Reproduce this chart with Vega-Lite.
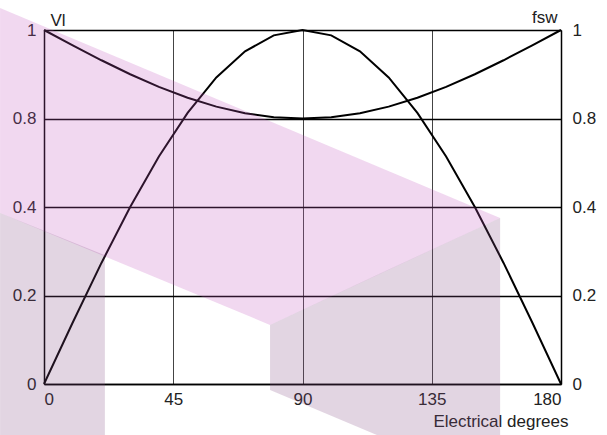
{
  "$schema": "https://vega.github.io/schema/vega-lite/v6.json",
  "width": 517,
  "height": 354,
  "autosize": "none",
  "padding": {"left": 44, "top": 30, "right": 46, "bottom": 51},
  "config": {
    "font": "Liberation Sans",
    "view": {"stroke": null},
    "axis": {"labelFontSize": 17, "titleFontSize": 17, "titleFontWeight": "normal", "labelColor": "#222", "titleColor": "#222", "ticks": false, "domainColor": "#000", "domainWidth": 1.5}
  },
  "resolve": {"scale": {"y": "shared"}, "axis": {"y": "independent"}},
  "layer": [
    {
      "data": {"values": [
        {"deg": 0, "v": 0}, {"deg": 10, "v": 0.1736}, {"deg": 20, "v": 0.342}, {"deg": 30, "v": 0.5},
        {"deg": 40, "v": 0.6428}, {"deg": 50, "v": 0.766}, {"deg": 60, "v": 0.866}, {"deg": 70, "v": 0.9397},
        {"deg": 80, "v": 0.9848}, {"deg": 90, "v": 1}, {"deg": 100, "v": 0.9848}, {"deg": 110, "v": 0.9397},
        {"deg": 120, "v": 0.866}, {"deg": 130, "v": 0.766}, {"deg": 140, "v": 0.6428}, {"deg": 150, "v": 0.5},
        {"deg": 160, "v": 0.342}, {"deg": 170, "v": 0.1736}, {"deg": 180, "v": 0}
      ]},
      "mark": {"type": "line", "color": "#000", "strokeWidth": 2},
      "encoding": {
        "x": {"field": "deg", "type": "quantitative", "scale": {"domain": [0, 180], "nice": false, "zero": false},
          "axis": {"values": [0, 45, 90, 135, 180], "grid": true, "gridColor": "#444", "gridWidth": 1, "labelPadding": 7,
            "title": "Electrical degrees", "titleAlign": "right", "titleAnchor": null, "titleX": 524, "titleY": 42, "titleBaseline": "alphabetic"}},
        "y": {"field": "v", "type": "quantitative", "scale": {"domain": [0, 1], "nice": false},
          "axis": {"orient": "left", "values": [0, 0.25, 0.5, 0.75, 1], "grid": true, "gridColor": "#000", "gridWidth": 1.5, "labelPadding": 8,
            "labelExpr": "datum.value == 0 ? '0' : datum.value == 0.25 ? '0.2' : datum.value == 0.5 ? '0.4' : datum.value == 0.75 ? '0.8' : '1'",
            "title": "Vl", "titleAngle": 0, "titleAlign": "left", "titleBaseline": "alphabetic", "titleX": 6, "titleY": -5}}
      }
    },
    {
      "data": {"values": [
        {"deg": 0, "v": 1}, {"deg": 10, "v": 0.9566}, {"deg": 20, "v": 0.9145}, {"deg": 30, "v": 0.875},
        {"deg": 40, "v": 0.8393}, {"deg": 50, "v": 0.8085}, {"deg": 60, "v": 0.7835}, {"deg": 70, "v": 0.7651},
        {"deg": 80, "v": 0.7538}, {"deg": 90, "v": 0.75}, {"deg": 100, "v": 0.7538}, {"deg": 110, "v": 0.7651},
        {"deg": 120, "v": 0.7835}, {"deg": 130, "v": 0.8085}, {"deg": 140, "v": 0.8393}, {"deg": 150, "v": 0.875},
        {"deg": 160, "v": 0.9145}, {"deg": 170, "v": 0.9566}, {"deg": 180, "v": 1}
      ]},
      "mark": {"type": "line", "color": "#000", "strokeWidth": 2},
      "encoding": {
        "x": {"field": "deg", "type": "quantitative"},
        "y": {"field": "v", "type": "quantitative",
          "axis": {"orient": "right", "values": [0, 0.25, 0.5, 0.75, 1], "grid": false, "labelPadding": 11,
            "labelExpr": "datum.value == 0 ? '0' : datum.value == 0.25 ? '0.2' : datum.value == 0.5 ? '0.4' : datum.value == 0.75 ? '0.8' : '1'",
            "title": "fsw", "titleAngle": 0, "titleAlign": "right", "titleBaseline": "alphabetic", "titleX": -4, "titleY": -8}}
      }
    },
    {
      "data": {"values": [
        {"shape": "pink", "x": -15.3, "y": 1.062, "y2": 0.483},
        {"shape": "pink", "x": 78.7, "y": 0.742, "y2": 0.167},
        {"shape": "pink", "x": 158.8, "y": 0.469, "y2": 0.469},
        {"shape": "mauveL", "x": -15.3, "y": 0.483, "y2": -0.144},
        {"shape": "mauveL", "x": 21.2, "y": 0.364, "y2": -0.144},
        {"shape": "mauveR", "x": 78.7, "y": 0.167, "y2": -0.017},
        {"shape": "mauveR", "x": 115.9, "y": 0.308, "y2": -0.144},
        {"shape": "mauveR", "x": 158.8, "y": 0.469, "y2": -0.144}
      ]},
      "mark": {"type": "area", "opacity": 0.23, "clip": false},
      "encoding": {
        "x": {"field": "x", "type": "quantitative"},
        "y": {"field": "y", "type": "quantitative", "stack": null, "axis": null},
        "y2": {"field": "y2"},
        "detail": {"field": "shape"},
        "color": {"field": "shape", "type": "nominal", "legend": null,
          "scale": {"domain": ["pink", "mauveL", "mauveR"], "range": ["#c457bf", "#824a82", "#824a82"]}}
      }
    }
  ]
}
